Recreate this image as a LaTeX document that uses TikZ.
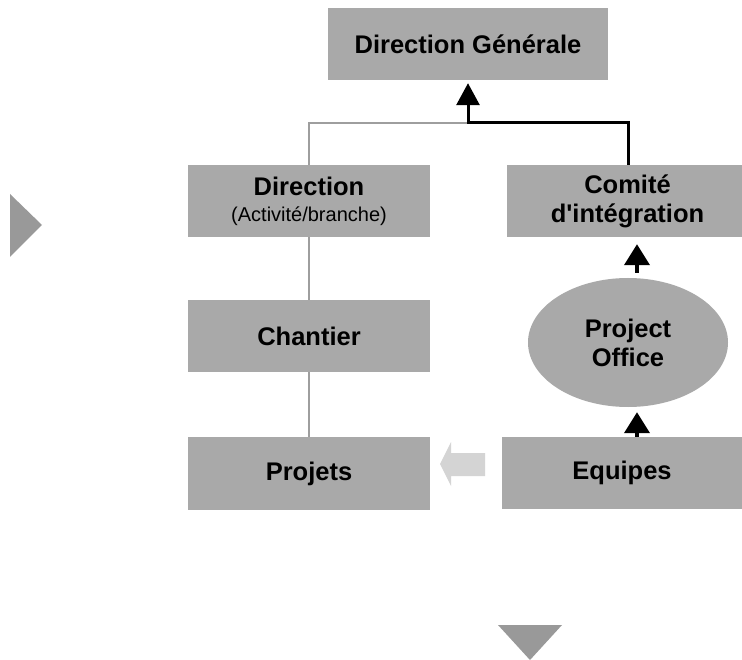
\documentclass[tikz,border=0pt]{standalone}
\usepackage{fontspec}
\setmainfont{Liberation Sans}[Ligatures=TeXOff]
\usetikzlibrary{arrows.meta,shapes.geometric,calc}
\definecolor{boxgray}{HTML}{A9A9A9}
\definecolor{trigray}{HTML}{999999}
\definecolor{linegray}{HTML}{9E9E9E}
\definecolor{pale}{HTML}{D4D4D4}
\tikzset{
  box/.style={rectangle,fill=boxgray,inner sep=0pt,minimum width=242pt,minimum height=72pt,align=center,font=\fontsize{25.5}{29}\selectfont\bfseries},
  oval/.style={ellipse,fill=boxgray,inner sep=0pt,minimum width=200pt,minimum height=129pt,align=center,font=\fontsize{25.5}{29}\selectfont\bfseries},
  thin/.style={draw=linegray,line width=2pt},
  thick/.style={draw=black,line width=3pt,-{Triangle[width=23pt,length=22pt]}},
  small/.style={draw=black,line width=4pt,-{Triangle[width=25pt,length=21pt]}}
}
\begin{document}
\begin{tikzpicture}[x=1pt,y=-1pt]
\clip (0,0) rectangle (742,660);
\fill[white] (0,0) rectangle (742,660);
% nodes
\node[box,minimum width=280pt] (dg) at (468,44) {Direction Générale};
\node[box] (dir) at (309,201) {Direction\\[-3pt]{\fontsize{20}{24}\selectfont\mdseries (Activité/branche)}};
\node[box,minimum width=241pt] (com) at (627.5,201) {Comité\\d'intégration};
\node[box] (chan) at (309,336) {Chantier};
\node[box,minimum height=73pt] (proj) at (309,473.5) {Projets};
\node[box,minimum width=240pt,minimum height=72pt] (equ) at (622,473) {Equipes};
\node[oval] (po) at (628,342.5) {Project\\Office};
\coordinate (j) at (468,123);
% connectors
\draw[thin] (dir.north) |- (j);
\draw[thin] (dir.south) -- (chan.north);
\draw[thin] (chan.south) -- (proj.north);
\draw[thick,shorten >=3pt] (com.north -| po) |- (j) -- (dg.south);
\draw[small] ([xshift=9pt,yshift=5pt]po.north) -- ([xshift=9.5pt,yshift=-7pt]com.south);
\draw[small] ([xshift=15pt]equ.north) -- ([xshift=9pt,yshift=-5pt]po.south);
% pale block arrow
\fill[pale] (440,464) -- (451,442) -- (451,453) -- (485,453) -- (485,476) -- (451,476) -- (451,486) -- cycle;
% triangles
\fill[trigray] (10,194) -- (42,225) -- (10,257) -- cycle;
\fill[trigray] (498,625) -- (562,625) -- (530,660) -- cycle;
\end{tikzpicture}
\end{document}
